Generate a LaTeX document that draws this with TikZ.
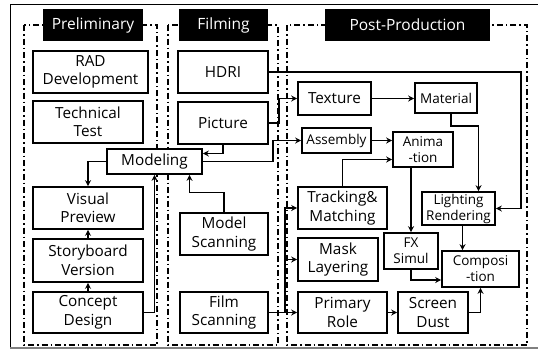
\documentclass[tikz,border=0pt]{standalone}
\usepackage{fontspec}
\setmainfont{Open Sans}
\usetikzlibrary{arrows.meta}

\begin{document}
\begin{tikzpicture}[x=1pt,y=-1pt,
  box/.style={draw, line width=1.6pt, align=center, inner sep=0pt, font=\fontsize{15.3}{18.5}\selectfont},
  sbox/.style={box, font=\fontsize{13.5}{16}\selectfont},
  head/.style={fill=black, text=white, inner sep=0pt, font=\fontsize{15.5}{18}\selectfont},
  frame/.style={line width=1.6pt, dash pattern=on 6pt off 3pt on 1.5pt off 3pt},
  arr/.style={line width=1.4pt, -{Stealth[length=6pt,width=6pt]}}]
  \useasboundingbox (0,0) rectangle (538,351);

  \draw[line width=0.8pt](538,4)--(10,4)--(10,348);
  \draw[gray, line width=2pt](10,348)--(538,348);

  \draw[frame](24,25) rectangle (157,345);
  \draw[frame](168,25) rectangle (278,345);
  \draw[frame](287,25) rectangle (527,345);

  \node[head, minimum width=100pt, minimum height=32pt] (hprelim) at (93,25) {Preliminary};
  \node[head, minimum width=89pt, minimum height=32pt] (hfilm) at (223.5,25) {Filming};
  \node[head, minimum width=165pt, minimum height=32pt] (hpost) at (407.5,25) {Post-Production};

  \node[box, minimum width=115pt, minimum height=42pt] (rad) at (90.5,72) {RAD\\Development};
  \node[box, minimum width=110pt, minimum height=42pt] (tech) at (88,122) {Technical\\Test};
  \node[box, minimum width=110pt, minimum height=42pt] (visual) at (88,208) {Visual\\Preview};
  \node[box, minimum width=110pt, minimum height=43pt] (story) at (88,260.5) {Storyboard\\Version};
  \node[box, minimum width=110pt, minimum height=41pt] (concept) at (88,312.5) {Concept\\Design};
  \node[box, minimum width=95pt, minimum height=25pt, fill=white] (modeling) at (154.5,161.5) {Modeling};

  \node[box, minimum width=90pt, minimum height=42pt] (hdri) at (223,72) {HDRI};
  \node[box, minimum width=90pt, minimum height=42pt] (picture) at (223,123) {Picture};
  \node[box, minimum width=88pt, minimum height=42pt] (mscan) at (224,234) {Model\\Scanning};
  \node[box, minimum width=88pt, minimum height=41pt] (fscan) at (224,312.5) {Film\\Scanning};

  \node[box, minimum width=73pt, minimum height=33pt] (texture) at (334.5,98.5) {Texture};
  \node[sbox, minimum width=62pt, minimum height=30pt] (material) at (446,98) {Material};
  \node[sbox, minimum width=69pt, minimum height=25pt] (assembly) at (336.5,140.5) {Assembly};
  \node[sbox, minimum width=60pt, minimum height=35pt] (anim) at (423,149.5) {Anima\\-tion};
  \node[box, minimum width=89pt, minimum height=42pt] (tracking) at (342.5,208) {Tracking\&\\Matching};
  \node[box, minimum width=80pt, minimum height=43pt] (mask) at (338,259.5) {Mask\\Layering};
  \node[box, minimum width=89pt, minimum height=41pt] (primary) at (342.5,312.5) {Primary\\Role};
  \node[sbox, minimum width=73pt, minimum height=33pt] (lighting) at (458.5,208.5) {Lighting\\Rendering};
  \node[sbox, minimum width=54pt, minimum height=36pt] (fx) at (411,251) {FX\\Simul};
  \node[sbox, minimum width=77pt, minimum height=36pt] (compos) at (480.5,269) {Composi\\-tion};
  \node[box, minimum width=70pt, minimum height=41pt] (dust) at (433,312.5) {Screen\\Dust};

  \draw[arr](story.north)--(visual.south);
  \draw[arr](concept.north)--(story.south);
  \draw[arr](modeling.west)-|(visual.north);
  \draw[arr](concept.east)-|(modeling.south);
  \draw[arr](mscan.north)--++(0,-20)-|([xshift=35pt]modeling.south);
  \draw[arr](picture.south)|-([yshift=8pt]modeling.east);
  \draw[arr](picture.east)--++(10,0)|-(texture.west);
  \draw[arr](modeling.east)--++(70,0)|-(assembly.west);
  \draw[arr](hdri.east)-|([xshift=25pt]lighting.east)--(lighting.east);
  \draw[line width=1.4pt](fscan.east)--++(16,0) coordinate (fs);
  \draw[arr](fs)|-(tracking.west);
  \draw[arr](fs)|-(mask.west);
  \draw[arr](fs)--(primary.west);

  \draw[arr](texture.east)--(texture.east-|material.west);
  \draw[arr](assembly.east)--(assembly.east-|anim.west);
  \draw[arr]([xshift=5pt]material.south)--++(0,12)-|([xshift=20pt]lighting.north);
  \draw[arr](tracking.north)|-([yshift=-10pt]anim.west);
  \draw[arr](fx.north|-anim.south)--(fx.north);
  \draw[arr](fx.south)|-([yshift=-11pt]compos.west);
  \draw[arr]([xshift=4pt]lighting.south)--([xshift=4pt]lighting.south|-compos.north);
  \draw[arr](primary.east)--(dust.west);
  \draw[arr](dust.east)-|(compos.south);
\end{tikzpicture}
\end{document}
